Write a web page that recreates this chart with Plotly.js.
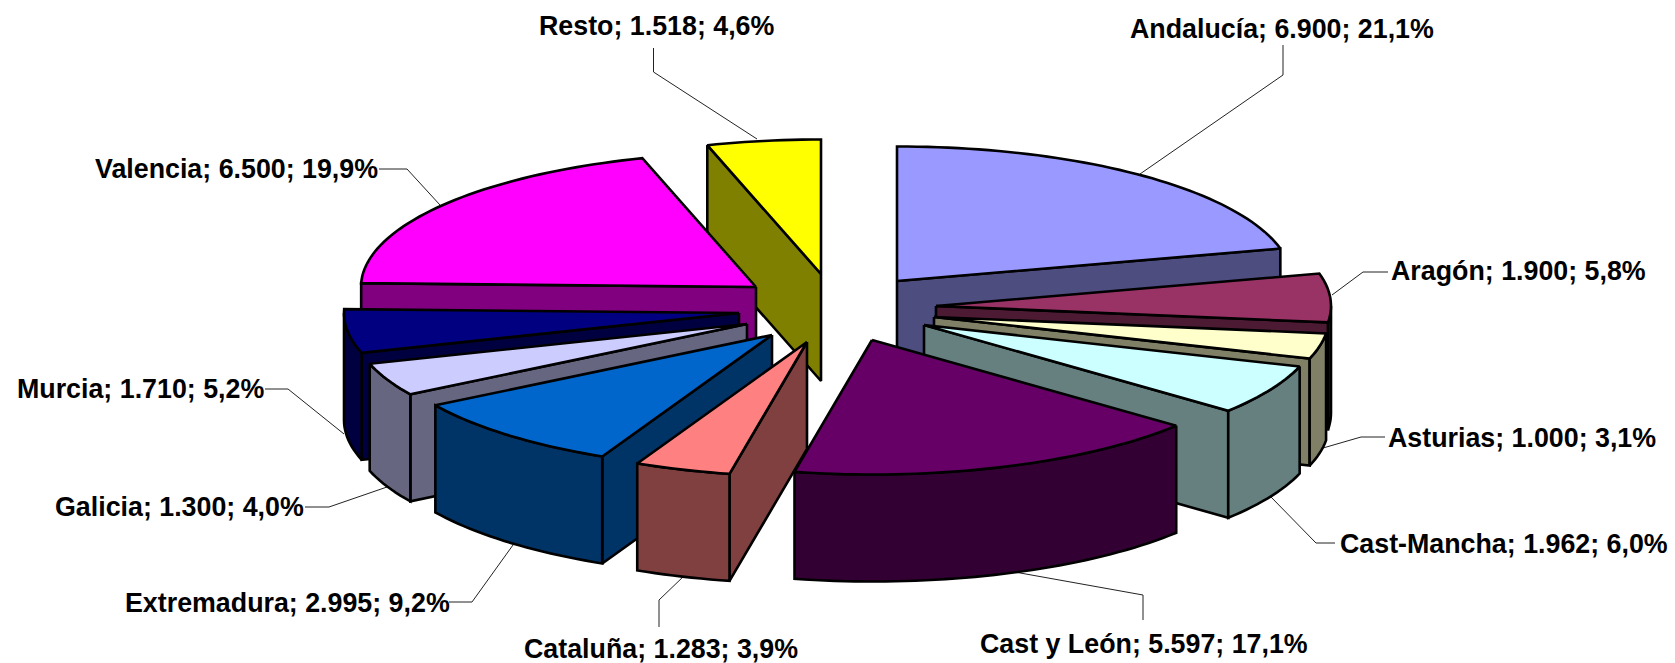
<!DOCTYPE html>
<html><head><meta charset="utf-8">
<style>html,body{margin:0;padding:0;background:#fff}#c{width:1675px;height:663px}</style>
<script src="https://cdn.plot.ly/plotly-3.0.1.min.js"></script></head>
<body><div id="c"></div>
<script>
// Data
const categories = ["Andalucía","Aragón","Asturias","Cast-Mancha","Cast y León","Cataluña","Extremadura","Galicia","Murcia","Valencia","Resto"];
const values = [6900,1900,1000,1962,5597,1283,2995,1300,1710,6500,1518];
// Styles
const topColors  = ["#9999ff","#993366","#ffffcc","#ccffff","#660066","#ff8080","#0066cc","#ccccff","#000080","#ff00ff","#ffff00"];
const sideColors = ["#4d4d80","#4d1a33","#808066","#668080","#330033","#804040","#003366","#666680","#000040","#800080","#808000"];
// Exploded slice apex positions on the drawing plane
const apexX = [897,936,934,924,872,807,772,747,739,756,821];
const apexY = [281,306,317,325,340,342,335,324,313,287,274];
const labelX = [1282,1518,1522,1504,1144,661,287,179,140,236,656];
const labelY = [29,271,438,544,644,649,603,507,389,169,26];
const drawOrder = [10,0,9,1,8,2,7,3,6,4,5];
const leaders = [
 [[1283,45],[1283,75],[1140,174]],
 [[1388,272],[1363,272],[1332,295]],
 [[1385,437],[1361,437],[1323,448]],
 [[1335,543],[1316,543],[1271,497]],
 [[1143,620],[1143,595],[1009,571]],
 [[659,627],[659,600],[685,575]],
 [[449,602],[472,602],[513,545]],
 [[305,507],[329,507],[387,487]],
 [[265,389],[288,389],[344,434]],
 [[379,169],[407,169],[440,205]],
 [[653.5,48],[653.5,72],[757,139]]
];
const RX = 395, RY = 134.5, DEPTH = 107;

const total = values.reduce((a,b)=>a+b,0);
const fmtNum = v => String(v).replace(/\B(?=(\d{3})+$)/g,".");
const fmtPct = v => (v/total*100).toFixed(1).replace(".",",")+"%";
const labelText = categories.map((c,i)=>`${c}; ${fmtNum(values[i])}; ${fmtPct(values[i])}`);

const rad = d => d*Math.PI/180;
const rim = (i,t) => [apexX[i]+RX*Math.sin(rad(t)), apexY[i]-RY*Math.cos(rad(t))];
const arc = (i,a,b) => { const n=Math.max(2,Math.ceil((b-a)/1.5)), p=[];
  for(let k=0;k<=n;k++) p.push(rim(i,a+(b-a)*k/n)); return p; };
const poly = (pts,color) => ({type:"scatter",mode:"lines",x:[...pts.map(p=>p[0]),pts[0][0]],y:[...pts.map(p=>p[1]),pts[0][1]],
  fill:"toself",fillcolor:color,line:{color:"#000",width:2.6,simplify:false},hoverinfo:"skip",showlegend:false});
const down = p => [p[0],p[1]+DEPTH];

const traces = [];
let acc = 0; const starts = values.map(v=>{const s=acc; acc+=v; return s/total*360;});
const ends = values.map((v,i)=>starts[i]+v/total*360);

for(const i of leaders.keys()){
  traces.push({type:"scatter",mode:"lines",x:leaders[i].map(p=>p[0]),y:leaders[i].map(p=>p[1]),
    line:{color:"#222",width:1},hoverinfo:"skip",showlegend:false});
}
for(const i of drawOrder){
  const t0=starts[i], t1=ends[i], A=[apexX[i],apexY[i]], S=rim(i,t0), E=rim(i,t1);
  if(-Math.sin(rad(t0))>0.001) traces.push(poly([A,S,down(S),down(A)],sideColors[i]));
  if(Math.sin(rad(t1))>0.001) traces.push(poly([A,E,down(E),down(A)],sideColors[i]));
  const a=Math.max(t0,90), b=Math.min(t1,270);
  if(b>a){ const r=arc(i,a,b); traces.push(poly([...r,...r.slice().reverse().map(down)],sideColors[i])); }
  traces.push(poly([A,...arc(i,t0,t1)],topColors[i]));
}
const annotations = categories.map((c,i)=>({x:labelX[i],y:labelY[i],xref:"x",yref:"y",text:labelText[i],showarrow:false,
  xanchor:"center",yanchor:"middle",font:{family:"Liberation Sans, Arial, sans-serif",size:26.8,color:"#000",weight:700}}));

const hidden = {visible:false,fixedrange:true};
Plotly.newPlot("c",traces,{
  width:1675,height:663,margin:{l:0,r:0,t:0,b:0},paper_bgcolor:"#fff",plot_bgcolor:"#fff",showlegend:false,
  xaxis:{...hidden,range:[0,1675]},yaxis:{...hidden,range:[663,0]},annotations
},{staticPlot:true,displayModeBar:false});
</script></body></html>
